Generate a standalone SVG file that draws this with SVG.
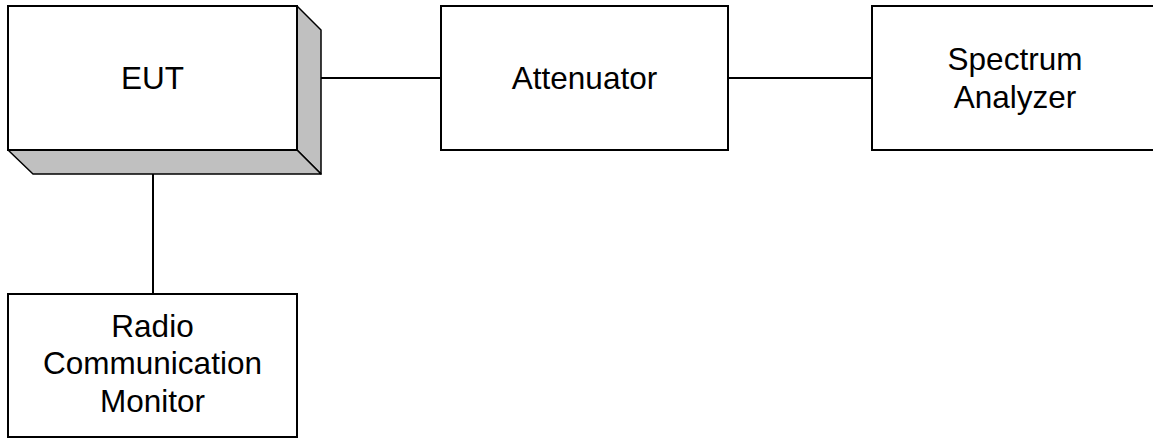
<svg xmlns="http://www.w3.org/2000/svg" width="1153" height="439" viewBox="0 0 1153 439">
<style>
.box{fill:#fff;stroke:#000;stroke-width:2}
.side{fill:#c0c0c0;stroke:#000;stroke-width:1.5;stroke-linejoin:round}
.ln{stroke:#000;stroke-width:2;fill:none}
text{font-family:"Liberation Sans",Arial,sans-serif;font-size:31.5px;fill:#000;text-anchor:middle}
</style>
<rect width="1153" height="439" fill="#fff"/>
<g id="connectors">
<line class="ln" x1="321" y1="78" x2="441" y2="78"/>
<line class="ln" x1="728" y1="78" x2="872" y2="78"/>
<line class="ln" x1="153" y1="174" x2="153" y2="294"/>
</g>
<g id="eut">
<polygon class="side" points="297,6 321,30 321,174 297,150"/>
<polygon class="side" points="8,150 297,150 321,174 33,174"/>
<rect class="box" x="8" y="6" width="289" height="144"/>
<text x="152.5" y="88.5">EUT</text>
</g>
<g id="attenuator">
<rect class="box" x="441" y="6" width="287" height="144"/>
<text x="584.5" y="88.5">Attenuator</text>
</g>
<g id="spectrum-analyzer">
<rect class="box" x="872" y="6" width="290" height="144"/>
<text x="1015" y="70">Spectrum</text>
<text x="1015" y="107.5">Analyzer</text>
</g>
<g id="radio-communication-monitor">
<rect class="box" x="8" y="294" width="289" height="143"/>
<text x="152.5" y="336.5">Radio</text>
<text x="152.5" y="374">Communication</text>
<text x="152.5" y="411.5">Monitor</text>
</g>
</svg>
